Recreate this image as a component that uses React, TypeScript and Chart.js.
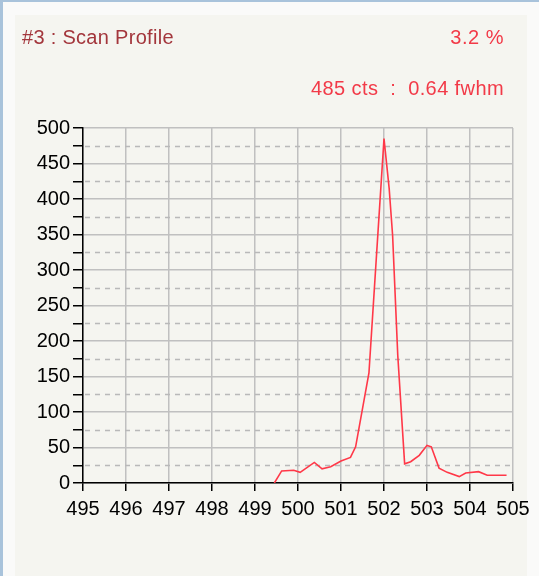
import React, { useEffect, useRef } from 'react';
import { Chart, registerables } from 'chart.js';

Chart.register(...registerables);

// Scan profile samples (position vs. counts)
const scanPositions = [
  499.45, 499.62, 499.9, 500.05, 500.38, 500.56, 500.76, 501.0, 501.22, 501.34,
  501.65, 502.0, 502.12, 502.2, 502.32, 502.48, 502.62, 502.82, 503.0, 503.1,
  503.28, 503.47, 503.75, 503.9, 504.2, 504.4, 504.85,
];
const scanCounts = [
  0, 17, 18, 15, 29, 20, 23, 31, 36, 51,
  155, 485, 415, 349, 180, 27, 30, 39, 53, 51,
  21, 15, 9, 14, 16, 11, 11,
];

const xMin = 495;
const xMax = 505;
const yMin = 0;
const yMax = 500;
const yStep = 25;
const yLabelStep = 50;

const titleText = '#3 : Scan Profile';
const percentText = '3.2 %';
const statsText = '485 cts  :  0.64 fwhm';

const FONT = '"Liberation Sans", Arial, sans-serif';

export default function App() {
  const canvasRef = useRef<HTMLCanvasElement | null>(null);

  useEffect(() => {
    document.body.style.margin = '0';
    const canvas = canvasRef.current;
    if (!canvas) return;

    const dashedGrid = {
      id: 'dashedGrid',
      beforeDatasetsDraw(chart: any) {
        const { ctx, chartArea } = chart;
        const ys = chart.scales.y;
        ctx.save();
        ctx.strokeStyle = '#b9b9b9';
        ctx.lineWidth = 1.5;
        ctx.setLineDash([5, 5]);
        for (let v = yMin + yStep; v < yMax; v += yStep) {
          if (v % yLabelStep === 0) continue;
          const py = Math.round(ys.getPixelForValue(v)) + 0.5;
          ctx.beginPath();
          ctx.moveTo(chartArea.left + 2, py);
          ctx.lineTo(chartArea.right, py);
          ctx.stroke();
        }
        ctx.restore();
      },
    };

    const chart = new Chart(canvas, {
      type: 'line',
      data: {
        datasets: [
          {
            data: scanPositions.map((x, i) => ({ x, y: scanCounts[i] })),
            borderColor: '#ff3848',
            borderWidth: 1.6,
            pointRadius: 0,
            tension: 0,
            fill: false,
          },
        ],
      },
      options: {
        animation: false,
        responsive: false,
        events: [],
        layout: { padding: { left: 0, top: 128, right: 26, bottom: 0 } },
        plugins: {
          legend: { display: false },
          tooltip: { enabled: false },
        },
        scales: {
          x: {
            type: 'linear',
            min: xMin,
            max: xMax,
            afterFit: (scale: any) => {
              scale.height = 93;
            },
            ticks: {
              stepSize: 1,
              autoSkip: false,
              maxRotation: 0,
              color: '#000',
              padding: 6,
              font: { family: FONT, size: 20 },
              callback: (v: any) => String(v),
            },
            grid: {
              color: '#c0c0c0',
              lineWidth: 1.5,
              tickColor: '#000',
              tickLength: 8,
              tickWidth: 1.5,
            },
            border: { color: '#000', width: 1.5 },
          },
          y: {
            type: 'linear',
            min: yMin,
            max: yMax,
            afterFit: (scale: any) => {
              scale.width = 83;
            },
            ticks: {
              stepSize: yStep,
              autoSkip: false,
              color: '#000',
              padding: 3,
              font: { family: FONT, size: 20 },
              callback: (v: any) => (Number(v) % yLabelStep === 0 ? String(v) : ''),
            },
            grid: {
              color: (ctx: any) =>
                ctx.tick && ctx.tick.value % yLabelStep === 0 ? '#c0c0c0' : 'rgba(0,0,0,0)',
              lineWidth: 1.5,
              tickColor: '#000',
              tickLength: 10,
              tickWidth: 1.5,
            },
            border: { color: '#000', width: 1.5 },
          },
        },
      },
      plugins: [dashedGrid],
    });

    return () => chart.destroy();
  }, []);

  return (
    <div
      style={{
        position: 'fixed',
        left: 0,
        top: 0,
        width: 539,
        height: 576,
        background: '#fafaf9',
        overflow: 'hidden',
        fontFamily: FONT,
      }}
    >
      <div style={{ position: 'absolute', left: 15, top: 15, width: 512, height: 561, background: '#f5f5f0' }} />
      <div style={{ position: 'absolute', left: 0, top: 0, width: 539, height: 2, background: '#a9c3db' }} />
      <div style={{ position: 'absolute', left: 0, top: 0, width: 3, height: 576, background: '#a9c3db' }} />
      <canvas
        ref={canvasRef}
        width={539}
        height={576}
        style={{ position: 'absolute', left: 0, top: 0, width: 539, height: 576 }}
      />
      <div
        style={{
          position: 'absolute',
          left: 22,
          top: 27,
          fontSize: 20,
          lineHeight: '20px',
          color: '#a3363c',
          whiteSpace: 'pre',
          letterSpacing: '0.3px',
        }}
      >
        {titleText}
      </div>
      <div
        style={{
          position: 'absolute',
          right: 35,
          top: 27,
          fontSize: 20,
          lineHeight: '20px',
          color: '#f23a48',
          whiteSpace: 'pre',
          letterSpacing: '0.5px',
        }}
      >
        {percentText}
      </div>
      <div
        style={{
          position: 'absolute',
          right: 35,
          top: 77.5,
          fontSize: 20,
          lineHeight: '20px',
          color: '#f23a48',
          whiteSpace: 'pre',
          letterSpacing: '0.4px',
        }}
      >
        {statsText}
      </div>
    </div>
  );
}
